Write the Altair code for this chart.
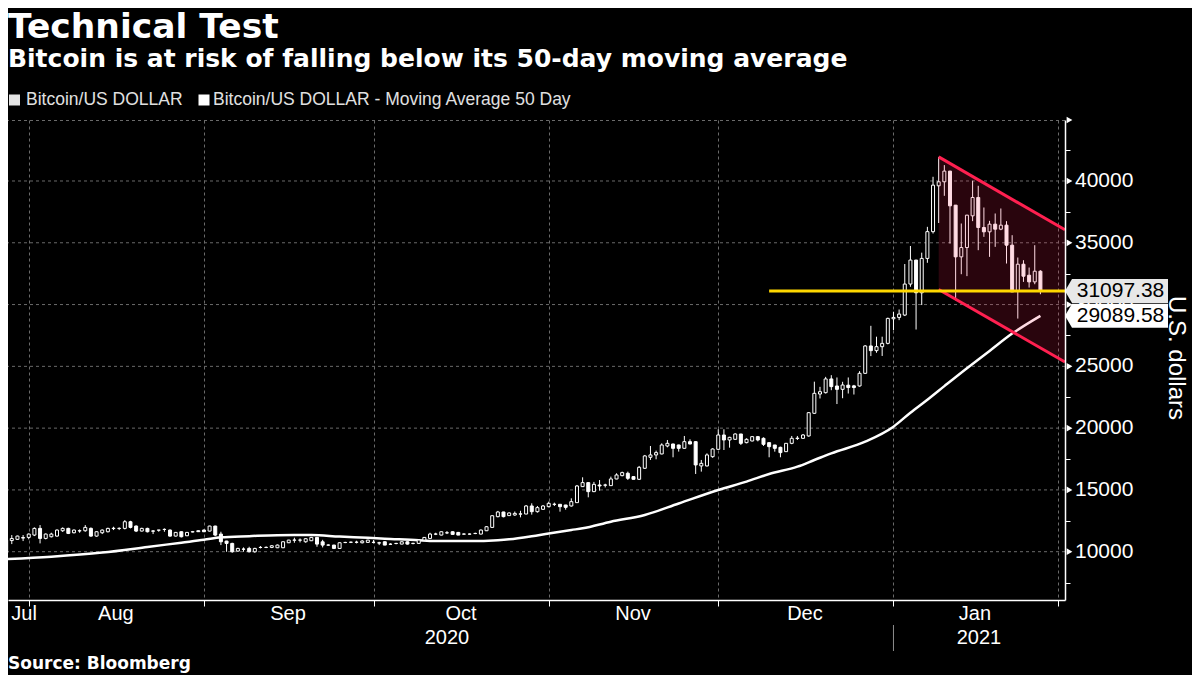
import altair as alt
import pandas as pd

# ---------------- texts ----------------
title_text = "Technical Test"
subtitle_text = "Bitcoin is at risk of falling below its 50-day moving average"
legend_labels = ["Bitcoin/US DOLLAR", "Bitcoin/US DOLLAR - Moving Average 50 Day"]
source_text = "Source: Bloomberg"
axis_title = "U.S. dollars"

# ---------------- daily candles (chart dates from 2020-07-27) ----------------
first_day = "2020-07-27"
opens = [
    9860, 9914, 10900, 11000, 11100,
    11156, 11345, 11885, 11075, 11210, 11264, 11696, 11885, 11534, 11680, 11696, 11885, 11264, 11534, 11615, 11870,
    11880, 11885, 12425, 12074, 11669, 11885, 11680, 11740, 11800, 11750, 11264, 11615, 11291, 11600, 11696,
    11750, 11669, 12074, 11426, 10860, 10670, 10049, 10211, 10265, 9995, 10340, 10340, 10346, 10319, 10319,
    10724, 10930, 10935, 10805, 10886, 11156, 10800, 10530, 10535, 10265, 10740, 10760, 10770, 10724, 10751,
    10760, 10720, 10805, 10600, 10660, 10616, 10805, 10660, 10670, 10940, 11075, 11420, 11345, 11520, 11615, 11561,
    11420, 11420, 11470, 11426, 11696, 11966, 12835, 13215, 12920, 12970, 13040, 13050, 13700, 13240, 13430,
    13645, 13830, 13835, 13780, 13700, 13970, 15265, 15590, 14860, 15400, 15380, 15346, 15886, 16155, 16345,
    16075, 15860, 16750, 17640, 17830, 17910, 18555, 18716, 18636, 18366, 18905, 18905, 16940, 16940, 17690,
    18285, 19445, 19040, 19095, 19525, 18825, 18960, 19310, 19175, 18825, 18636, 18447, 18096, 18770, 19160, 19175,
    19365, 21200, 22760, 22870, 23980, 23410, 23140, 23475, 23420, 23410, 24435, 26650, 26270, 26590, 26860,
    28850, 28960, 29150, 31660, 33600, 30954, 33735, 35900, 39610, 39935, 40800, 38045, 33860, 34615,
    37180, 38666, 36236, 35885, 36506, 36100, 36425, 34805, 31106, 33266, 32375, 31835, 32699,
]
highs = [
    10200, 11050, 11345, 11300, 11345,
    11480, 11966, 12155, 11480, 11534, 11804, 11966, 11940, 11800, 11804, 12155, 11966, 11650, 11804, 11940, 12020,
    11966, 12560, 12500, 12130, 11940, 11940, 11750, 11760, 11885, 11804, 11600, 11640, 11600, 11680, 11720,
    11800, 12100, 12100, 11615, 10880, 10724, 10319, 10346, 10400, 10319, 10454, 10430, 10535, 10580, 10830,
    10960, 11130, 11075, 11100, 11200, 11180, 10960, 10600, 10560, 10751, 10800, 10820, 10886, 10940, 10960,
    10940, 10805, 10830, 10680, 10720, 10830, 10830, 10720, 10960, 11180, 11534, 11534, 11640, 11669, 11640, 11600,
    11480, 11480, 11540, 11804, 12074, 12940, 13300, 13230, 13180, 13250, 13310, 13780, 13915, 13700, 13780,
    14050, 13970, 13840, 13790, 14320, 15400, 16020, 15620, 15650, 15800, 15500, 16075, 16345, 16480, 16480,
    16100, 16940, 17830, 18555, 18180, 18770, 19040, 18740, 18660, 19365, 19095, 18930, 17425, 17960, 18370,
    19905, 19905, 19300, 19580, 19530, 19175, 19365, 19365, 19255, 18830, 18640, 18500, 18770, 19365, 19365, 19525,
    21300, 23760, 23340, 24150, 24285, 24100, 23750, 24100, 23500, 24610, 26720, 28280, 27400, 27400, 28940,
    29420, 29600, 33280, 34740, 33620, 34200, 36290, 40340, 41950, 41285, 40820, 38060, 36560, 37260,
    40016, 39611, 37856, 36776, 37370, 37775, 36750, 35615, 33806, 33590, 32996, 34805, 32780,
]
lows = [
    9800, 9880, 10616, 10950, 10860,
    11000, 11264, 10670, 11000, 11156, 11210, 11600, 11426, 11480, 11534, 11615, 11210, 11210, 11426, 11560, 11750,
    11750, 11804, 11885, 11590, 11640, 11560, 11426, 11615, 11615, 11210, 11230, 11156, 11260, 11560, 11600,
    11600, 11640, 11264, 10535, 9995, 9914, 9995, 9995, 9940, 9914, 10265, 10290, 10290, 10290, 10290,
    10700, 10724, 10751, 10724, 10860, 10400, 10346, 10480, 10211, 10240, 10690, 10700, 10670, 10670, 10720,
    10670, 10535, 10535, 10560, 10600, 10600, 10580, 10600, 10640, 10920, 11050, 11345, 11320, 11426, 11390, 11345,
    11380, 11380, 11420, 11400, 11669, 11940, 12780, 12780, 12900, 12900, 12780, 13030, 13000, 13160, 13380,
    13590, 13700, 13240, 13400, 13650, 13940, 15240, 14400, 14820, 14940, 15200, 15320, 15860, 16100, 15805,
    15860, 15800, 16700, 17425, 17480, 17880, 18447, 17640, 18100, 18340, 18690, 16290, 16480, 16900, 17600,
    18260, 18230, 18420, 19060, 18636, 18770, 18930, 18930, 18560, 17640, 18096, 17640, 18090, 18700, 19040, 19120,
    19310, 21150, 22400, 22800, 23070, 21950, 22420, 22800, 22720, 23360, 24380, 25830, 26100, 25840, 26780,
    27930, 28740, 29070, 31440, 27980, 29960, 33380, 35750, 36600, 38800, 34940, 30350, 32456, 32300,
    36750, 34400, 35480, 33860, 34670, 36020, 33320, 31025, 28865, 31835, 31376, 31646, 30836,
]
closes = [
    10180, 10940, 11070, 11264, 11150,
    11426, 11885, 11075, 11426, 11426, 11750, 11885, 11480, 11750, 11700, 11966, 11264, 11615, 11750, 11885, 11900,
    11890, 12425, 11966, 11669, 11885, 11615, 11660, 11750, 11804, 11264, 11561, 11210, 11561, 11615, 11620,
    11615, 12074, 11345, 10805, 10670, 9995, 10265, 10200, 9995, 10265, 10350, 10350, 10480, 10535, 10805,
    10940, 10945, 10940, 11050, 11156, 10616, 10535, 10540, 10265, 10724, 10750, 10770, 10760, 10860, 10940,
    10750, 10700, 10535, 10610, 10670, 10805, 10616, 10680, 10940, 11156, 11426, 11430, 11615, 11534, 11400, 11345,
    11430, 11426, 11480, 11750, 12020, 12911, 13215, 12835, 13135, 13100, 13060, 13700, 13240, 13565, 13700,
    13915, 13840, 13645, 13590, 14050, 15318, 15590, 14860, 15450, 15320, 15400, 15886, 16210, 16400, 15940,
    15860, 16830, 17750, 17830, 18016, 18636, 18770, 18366, 18366, 18905, 18716, 17020, 17150, 17830, 18310,
    19445, 19040, 19255, 19525, 18770, 19095, 19310, 19040, 18690, 18500, 18366, 18016, 18770, 19175, 19190, 19445,
    21250, 22817, 22950, 23980, 23360, 23140, 23490, 23285, 23285, 24435, 26650, 26270, 26590, 26860, 28880,
    28960, 29230, 31660, 33600, 30954, 33735, 35900, 39665, 39935, 40800, 37990, 33860, 34615, 37235,
    38666, 36236, 35885, 36506, 36100, 36425, 34805, 31025, 33266, 32294, 31835, 32699, 31097.38,
]
candle_dates = pd.date_range(first_day, periods=len(closes), freq="D").strftime("%Y-%m-%d").tolist()

# ---------------- 50-day moving average ----------------
ma_dates = ["2020-07-27", "2020-08-05", "2020-08-14", "2020-08-22", "2020-08-28", "2020-09-01",
            "2020-09-04", "2020-09-09", "2020-09-14", "2020-09-20", "2020-09-25", "2020-09-30",
            "2020-10-03", "2020-10-09", "2020-10-11", "2020-10-18", "2020-10-23", "2020-10-25",
            "2020-10-29", "2020-11-01", "2020-11-05", "2020-11-07", "2020-11-12", "2020-11-18",
            "2020-11-24", "2020-12-01", "2020-12-06", "2020-12-10", "2020-12-15", "2020-12-18",
            "2020-12-21", "2020-12-27", "2021-01-01", "2021-01-04", "2021-01-07", "2021-01-10",
            "2021-01-14", "2021-01-18", "2021-01-22", "2021-01-27"]
ma_values = [9380, 9600, 9930, 10380, 10730, 10960,
             11160, 11260, 11340, 11345, 11220, 11120,
             11050, 10930, 10870, 10860, 10930, 11000,
             11250, 11480, 11760, 11890, 12430, 12970,
             13900, 14995, 15670, 16290, 16880, 17420,
             17960, 18906, 20120, 21250, 22300, 23400,
             24850, 26250, 27650, 29089.58]

# ---------------- annotations ----------------
axis_end = "2021-01-31T08:24:00Z"
channel_dates = ["2021-01-09", axis_end]
channel_upper = [41950, 36050]
channel_lower = [31220, 25350]
support_dates = ["2020-12-10", axis_end]
support_level = 31097.38
price_values = [31097.38, 29089.58]
price_labels = ["31097.38", "29089.58"]

month_names = ["Jul", "Aug", "Sep", "Oct", "Nov", "Dec", "Jan"]
month_label_dates = ["2020-07-31T04:00:00Z", "2020-08-16T10:00:00Z", "2020-09-15T21:00:00Z",
                     "2020-10-16T12:00:00Z", "2020-11-15T22:00:00Z", "2020-12-16T08:00:00Z",
                     "2021-01-15T10:00:00Z"]
year_names = ["2020", "2021"]
year_label_dates = ["2020-10-14T00:00:00Z", "2021-01-16T03:00:00Z"]
year_break = ["2021-01-01"]

y_major = [10000, 15000, 20000, 25000, 30000, 35000, 40000]
y_ticks = [7500, 10000, 12500, 15000, 17500, 20000, 22500, 25000, 27500, 30000,
           32500, 35000, 37500, 40000, 42500]

# ---------------- styling ----------------
W, H = 1057, 480
GRID = "#6a6a6a"
RED = "#ff2050"
YELLOW = "#ffd800"
SANS = "Liberation Sans"
BOLD = "DejaVu Sans"

x_ticks = [alt.DateTime(year=2020, month=m, date=1, utc=True) for m in (8, 9, 10, 11, 12)] + [
    alt.DateTime(year=2021, month=1, date=1, utc=True),
    alt.DateTime(year=2021, month=1, date=30, hours=1, minutes=30, utc=True),
]
xscale = alt.Scale(type="utc", domain=[
    alt.DateTime(year=2020, month=7, date=28, hours=7, minutes=53, utc=True),
    alt.DateTime(year=2021, month=1, date=31, hours=8, minutes=24, utc=True),
])
yscale = alt.Scale(domain=[6091, 44936], nice=False, zero=False)

xaxis = alt.Axis(values=x_ticks, labels=False, tickSize=6, tickColor="white", domainColor="white",
                 domainWidth=1.5, grid=True, gridColor=GRID, gridDash=[3, 3], gridWidth=1,
                 title=None, zindex=0)
yaxis = alt.Axis(orient="right", values=y_ticks, labels=False,
                 tickSize=5, tickColor="white", domainColor="white", domainWidth=1.5,
                 grid=False, title=None, zindex=1)

df = pd.DataFrame({"date": candle_dates, "open": opens, "high": highs, "low": lows, "close": closes})
ma_df = pd.DataFrame({"date": ma_dates, "ma": ma_values})
ch_df = pd.DataFrame({"date": channel_dates, "upper": channel_upper, "lower": channel_lower})
sup_df = pd.DataFrame({"date": support_dates, "level": [support_level, support_level]})
price_df = pd.DataFrame({"price": price_values, "label": price_labels})
month_df = pd.DataFrame({"date": month_label_dates, "name": month_names})
year_df = pd.DataFrame({"date": year_label_dates, "name": year_names})
ybreak_df = pd.DataFrame({"date": year_break})
major_df = pd.DataFrame({"v": y_major})
one = pd.DataFrame({"k": [0]})

grid_h = alt.Chart(major_df).mark_rule(color=GRID, strokeDash=[3, 3], strokeWidth=1).encode(
    y=alt.Y("v:Q", scale=yscale))
grid_top = alt.Chart(one).mark_rule(color=GRID, strokeDash=[3, 3], strokeWidth=1).encode(
    y=alt.value(0.5))

ma_line = alt.Chart(ma_df).mark_line(color="white", strokeWidth=2.5, clip=True,
                                     interpolate="monotone").encode(
    x=alt.X("date:T", scale=xscale), y=alt.Y("ma:Q", scale=yscale))

candles = alt.Chart(df)
wicks = candles.mark_rule(color="white", strokeWidth=1, clip=True).encode(
    x=alt.X("date:T", scale=xscale, axis=xaxis),
    y=alt.Y("low:Q", scale=yscale, axis=yaxis),
    y2="high:Q")
bodies = candles.mark_rect(stroke="white", strokeWidth=1, xOffset=-1.5, x2Offset=1.5, clip=True).encode(
    x="date:T", x2="date:T", y="open:Q", y2="close:Q",
    fill=alt.condition("datum.close >= datum.open", alt.value("black"), alt.value("white")))

channel = alt.Chart(ch_df).mark_area(color="#ff1f4f", opacity=0.16).encode(
    x="date:T", y="upper:Q", y2="lower:Q")
red_up = alt.Chart(ch_df).mark_line(color=RED, strokeWidth=3).encode(x="date:T", y="upper:Q")
red_lo = alt.Chart(ch_df).mark_line(color=RED, strokeWidth=3).encode(x="date:T", y="lower:Q")
support = alt.Chart(sup_df).mark_line(color=YELLOW, strokeWidth=3).encode(x="date:T", y="level:Q")

tri = alt.Chart(major_df).mark_point(shape="triangle-right", filled=True, color="white", size=45,
                                     opacity=1).encode(x=alt.value(W + 4.5), y="v:Q")
tri_top = alt.Chart(one).mark_point(shape="triangle-right", filled=True, color="white", size=45,
                                    opacity=1).encode(x=alt.value(W + 4.5), y=alt.value(0))
ylabels = alt.Chart(major_df).mark_text(font=SANS, fontSize=21, color="white", align="left",
                                        baseline="middle").encode(
    x=alt.value(W + 10), y="v:Q", text=alt.Text("v:Q", format="d"))

BOX = "M-1,0L-0.864,-0.233L1,-0.233L1,0.233L-0.864,0.233Z"
boxes = alt.Chart(price_df).mark_point(shape=BOX, filled=True, size=10609, opacity=1, strokeWidth=0).encode(
    x=alt.value(W + 51.5), y="price:Q",
    fill=alt.condition("datum.price > 30000", alt.value("#e8e8e8"), alt.value("#ffffff")))
box_text = alt.Chart(price_df).mark_text(font=SANS, fontSize=21, color="black", align="center",
                                         baseline="middle").encode(
    x=alt.value(W + 55.5), y="price:Q", text="label:N")

ytitle = alt.Chart(one).mark_text(font=SANS, fontSize=24, color="white", angle=90, align="center",
                                  baseline="middle").encode(
    x=alt.value(1168), y=alt.value(238), text=alt.value(axis_title))

months = alt.Chart(month_df).mark_text(font=SANS, fontSize=20, color="white", align="center",
                                       baseline="middle").encode(
    x="date:T", y=alt.value(494), text="name:N")
years = alt.Chart(year_df).mark_text(font=SANS, fontSize=20, color="white", align="center",
                                     baseline="middle").encode(
    x="date:T", y=alt.value(518), text="name:N")
ybreak = alt.Chart(ybreak_df).mark_rule(color="#8c8c8c", strokeWidth=1).encode(
    x="date:T", y=alt.value(505), y2=alt.value(531))

title = alt.Chart(one).mark_text(font=BOLD, fontSize=34.5, fontWeight="bold", color="white",
                                 align="left", baseline="alphabetic").encode(
    x=alt.value(0), y=alt.value(-82.5), text=alt.value(title_text))
subtitle = alt.Chart(one).mark_text(font=BOLD, fontSize=25, fontWeight="bold", color="white",
                                    align="left", baseline="alphabetic").encode(
    x=alt.value(0), y=alt.value(-53), text=alt.value(subtitle_text))

leg_sq1 = alt.Chart(one).mark_square(size=121, color="#e4e4e4", opacity=1).encode(
    x=alt.value(6.5), y=alt.value(-20))
leg_tx1 = alt.Chart(one).mark_text(font=SANS, fontSize=17.5, color="#e0e0e0", align="left",
                                   baseline="middle").encode(
    x=alt.value(18), y=alt.value(-20), text=alt.value(legend_labels[0]))
leg_sq2 = alt.Chart(one).mark_square(size=121, color="#ffffff", opacity=1).encode(
    x=alt.value(196), y=alt.value(-20))
leg_tx2 = alt.Chart(one).mark_text(font=SANS, fontSize=17.5, color="#e0e0e0", align="left",
                                   baseline="middle").encode(
    x=alt.value(205), y=alt.value(-20), text=alt.value(legend_labels[1]))

source = alt.Chart(one).mark_text(font=BOLD, fontSize=17, fontWeight="bold", color="white",
                                  align="left", baseline="alphabetic").encode(
    x=alt.value(0), y=alt.value(549), text=alt.value(source_text))

chart = alt.layer(
    grid_h, grid_top, ma_line, wicks, bodies, channel, red_up, red_lo, support,
    tri, tri_top, ylabels, boxes, box_text, ytitle, months, years, ybreak,
    title, subtitle, leg_sq1, leg_tx1, leg_sq2, leg_tx2, source,
).properties(
    width=W, height=H,
    autosize=alt.AutoSizeParams(type="none"),
    padding={"left": 0, "top": 112, "right": 127, "bottom": 76},
    background="black",
).configure_view(stroke=None)

chart.save("out.html", embed_options={"renderer": "svg", "actions": False})
